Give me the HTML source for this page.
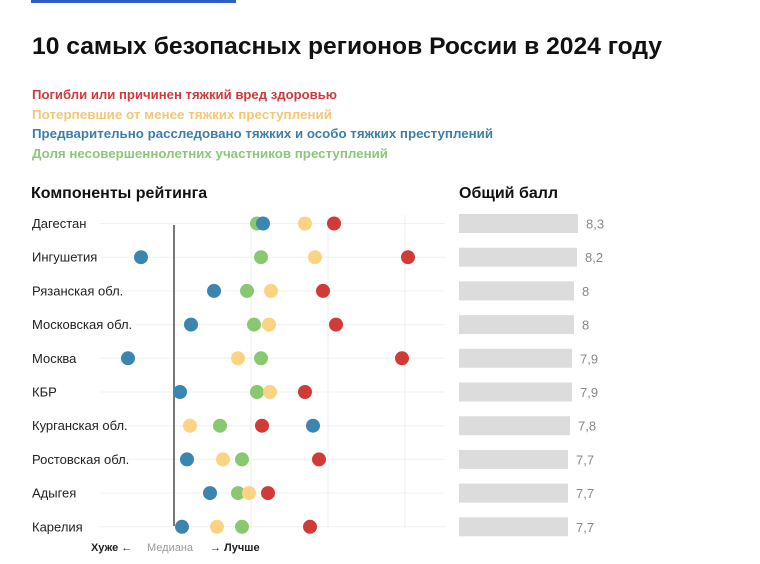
<!DOCTYPE html>
<html><head><meta charset="utf-8"><style>
body{margin:0;width:760px;height:559px;background:#fff;overflow:hidden;font-family:"Liberation Sans","DejaVu Sans",sans-serif;}
</style></head><body>
<svg width="760" height="559" viewBox="0 0 760 559" xmlns="http://www.w3.org/2000/svg" font-family="Liberation Sans, DejaVu Sans, sans-serif">
<rect x="31" y="0" width="205" height="3" fill="#2f5fc4"/>
<text x="32" y="54" font-size="24" font-weight="bold" fill="#111" textLength="630" lengthAdjust="spacingAndGlyphs">10 самых безопасных регионов России в 2024 году</text>
<g font-size="13" font-weight="bold">
<text x="32" y="99" fill="#cf3a3f" textLength="305" lengthAdjust="spacingAndGlyphs">Погибли или причинен тяжкий вред здоровью</text>
<text x="32" y="119" fill="#f5c67a" textLength="300" lengthAdjust="spacingAndGlyphs">Потерпевшие от менее тяжких преступлений</text>
<text x="32" y="138" fill="#3d7fa6" textLength="461" lengthAdjust="spacingAndGlyphs">Предварительно расследовано тяжких и особо тяжких преступлений</text>
<text x="32" y="158" fill="#8cc77a" textLength="356" lengthAdjust="spacingAndGlyphs">Доля несовершеннолетних участников преступлений</text>
</g>
<text x="31" y="198" font-size="16" font-weight="bold" fill="#111">Компоненты рейтинга</text>
<text x="459" y="198" font-size="16" font-weight="bold" fill="#111">Общий балл</text>
<g stroke="#eee" stroke-width="1">
<line x1="251" y1="215" x2="251" y2="528"/><line x1="328" y1="215" x2="328" y2="528"/><line x1="405" y1="215" x2="405" y2="528"/>
</g>
<g id="rows" font-size="13" fill="#222"></g>
<line x1="174" y1="225" x2="174" y2="526" stroke="#777" stroke-width="2"/>
<g id="dots"></g>
<g font-size="11" font-weight="bold">
<text x="91" y="551" fill="#222">Хуже ←</text>
<text x="147" y="551" fill="#999" font-weight="normal">Медиана</text>
<text x="210" y="551" fill="#222">→ Лучше</text>
</g>
<script>
var names=["Дагестан","Ингушетия","Рязанская обл.","Московская обл.","Москва","КБР","Курганская обл.","Ростовская обл.","Адыгея","Карелия"];
var vals=["8,3","8,2","8","8","7,9","7,9","7,8","7,7","7,7","7,7"];
var bw=[119,118,115,115,113,113,111,109,109,109];
var d=[[334,305,263,257],[408,315,141,261],[323,271,214,247],[336,269,191,254],[402,238,128,261],[305,270,180,257],[262,190,313,220],[319,223,187,242],[268,249,210,238],[310,217,182,242]];
var col=["#d03a37","#fcd283","#3a86b0","#88c970"];
var order=[[3,2,1,0],[2,3,1,0],[2,3,1,0],[2,3,1,0],[2,1,3,0],[2,3,1,0],[1,3,0,2],[2,1,3,0],[2,3,1,0],[2,1,3,0]];
var ns="http://www.w3.org/2000/svg",R=document.getElementById("rows"),D=document.getElementById("dots");
function el(t,a,p){var e=document.createElementNS(ns,t);for(var k in a)e.setAttribute(k,a[k]);p.appendChild(e);return e;}
for(var i=0;i<10;i++){var y=223.5+i*33.7;
el("line",{x1:100,y1:y,x2:445,y2:y,stroke:"#f0f0f0","stroke-width":1},R);
var t=el("text",{x:32,y:y+4.5},R);t.textContent=names[i];
el("rect",{x:459,y:y-9.5,width:bw[i],height:19,fill:"#dcdcdc"},R);
var v=el("text",{x:459+bw[i]+8,y:y+5,fill:"#888"},R);v.textContent=vals[i];
var o=order[i];for(var j=0;j<4;j++){var c=o[j];el("circle",{cx:d[i][c],cy:y,r:7,fill:col[c]},D);}
}
</script>
</svg>
</body></html>
